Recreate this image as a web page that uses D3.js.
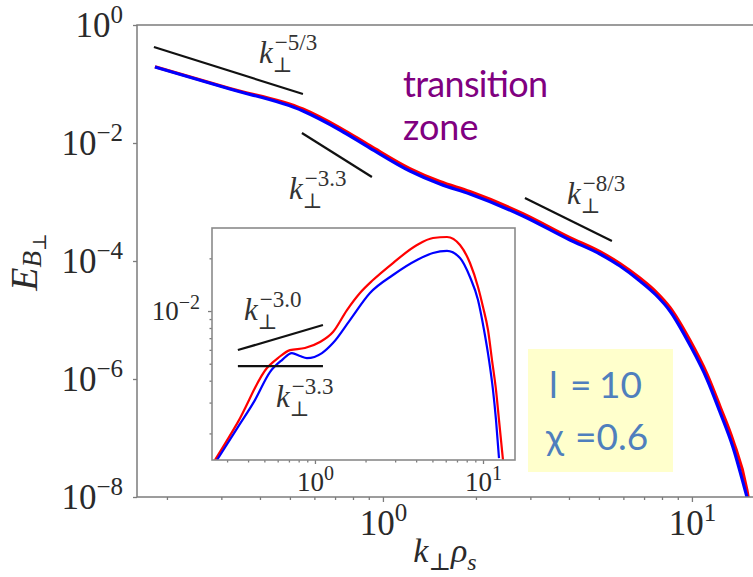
<!DOCTYPE html>
<html>
<head>
<meta charset="utf-8">
<script src="https://cdn.jsdelivr.net/npm/d3@7"></script>
<style>
  html, body { margin: 0; padding: 0; background: #fff; }
  svg { display: block; }
</style>
</head>
<body>
<svg id="chart" width="753" height="577"></svg>
<script>
// ---- main panel: perpendicular magnetic spectrum ----
const kMain = [0.1829, 0.3198, 0.5510, 0.7258, 0.9077, 1.2228, 1.5292, 1.9122, 2.8386, 4.0291,
               5.039, 5.848, 6.786, 7.647, 8.488, 9.852, 11.18, 12.32, 13.57, 15.07, 15.2];
const eMainBlue = [0.1941, 0.0823, 0.03485, 0.01661, 0.008226, 0.003353, 0.002019, 0.001367, 5.789e-4, 2.269e-4,
                   1.314e-4, 8.227e-5, 4.581e-5, 2.653e-5, 1.421e-5, 3.77e-6, 1.0e-6, 2.76e-7, 7.04e-8, 1.0e-8, 8.5e-9];
const eMainRed = [0.1960, 0.0838, 0.0376, 0.0181, 0.0090, 0.00368, 0.00222, 0.00150, 6.35e-4, 2.49e-4,
                  1.44e-4, 9.05e-5, 5.13e-5, 3.0e-5, 1.63e-5, 4.52e-6, 1.22e-6, 3.45e-7, 9.2e-8, 1.3e-8, 1.0e-8];

// ---- inset: compensated spectra ----
const kInsetBlue = [0.2610, 0.3479, 0.4394, 0.5397, 0.6362, 0.7295, 0.8141, 0.8962, 1.1008, 1.2798, 1.6157,
                    2.1254, 2.9127, 4.0469, 5.0393, 6.1054, 7.2966, 8.3656, 9.3375, 10.14, 10.857, 11.468, 11.95, 12.45];
const eInsetBlue = [1.408e-3, 2.173e-3, 3.100e-3, 4.482e-3, 5.248e-3, 5.754e-3, 5.532e-3, 5.386e-3, 5.754e-3, 6.565e-3, 8.883e-3,
                    0.01268, 0.01606, 0.01956, 0.02145, 0.02203, 0.02009, 0.01564, 0.01156, 7.788e-3, 5.248e-3, 3.536e-3, 2.383e-3, 1.445e-3];
const kInsetRed = [0.2540, 0.3479, 0.5179, 0.6023, 0.7098, 0.8720, 1.0710, 1.2798, 1.5506, 1.8530, 2.2145, 2.9127,
                   4.0469, 5.0393, 6.1054, 7.2966, 8.3656, 9.3375, 10.0, 10.71, 11.31, 11.95, 12.45, 13.15];
const eInsetRed = [1.408e-3, 2.321e-3, 4.725e-3, 5.386e-3, 5.985e-3, 6.145e-3, 6.651e-3, 7.586e-3, 0.01013, 0.01268, 0.01503, 0.01880,
                   0.02383, 0.02613, 0.02648, 0.02383, 0.01880, 0.01371, 0.01054, 7.788e-3, 5.248e-3, 3.536e-3, 2.383e-3, 1.408e-3];

// ---- power-law guide segments: end points in (k, E) ----
const guideMainK = [[0.1815, 0.551], [0.5468, 0.9213], [2.881, 5.509]];
const guideMainE = [[0.4238, 0.0677], [0.01477, 0.002653], [1.169e-3, 2.183e-4]];
const guideMainExp = ["\u22125/3", "\u22123.3", "\u22128/3"];
const guideInsetK = [[0.3479, 1.116], [0.3479, 1.116]];
const guideInsetE = [[5.985e-3, 8.318e-3], [4.85e-3, 4.85e-3]];
const guideInsetExp = ["\u22123.0", "\u22123.3"];

// ---- ticks ----
const yMajorMain = [1e-8, 1e-6, 1e-4, 1e-2, 1];
const xMajorMain = [1, 10];
const xMinorMain = [0.2, 0.3, 0.4, 0.5, 0.6, 0.7, 0.8, 0.9, 2, 3, 4, 5, 6, 7, 8, 9];
const yMajorInset = [1e-2];
const yMinorInset = [2e-3, 3e-3, 4e-3, 5e-3, 6e-3, 7e-3, 8e-3, 9e-3, 2e-2];
const xMajorInset = [1, 10];
const xMinorInset = [0.3, 0.4, 0.5, 0.6, 0.7, 0.8, 0.9, 2, 3, 4, 5, 6, 7, 8, 9];

const boxLines = [["l", "=", "10"], ["\u03c7", "=0.6"]];
const zoneLines = ["transition", "zone"];

const SERIF = "'Liberation Serif', 'DejaVu Serif', serif";
const SANS = "Lato, 'Open Sans', sans-serif";
const SPINE = "#7c7c7c";
const TEXT = "#2a2a2a";

const svg = d3.select("#chart");

const x = d3.scaleLog().domain([0.16, 16]).range([137, 755]);
const y = d3.scaleLog().domain([1e-8, 1]).range([497, 25]);
const xi = d3.scaleLog().domain([0.244, 15.5]).range([212, 515]);
const yi = d3.scaleLog().domain([1.41e-3, 0.0298]).range([460, 228]);

const zip = (a, b) => a.map((v, i) => [v, b[i]]);

// "10^n" label built from tspans
function powLabel(sel, supSize, rise) {
  sel.each(function (d) {
    const t = d3.select(this);
    const n = Math.round(Math.log10(d));
    t.text(null);
    t.append("tspan").text("10");
    t.append("tspan").attr("dy", -rise).attr("font-size", supSize)
      .text(n < 0 ? "\u2212" + (-n) : String(n));
  });
}

function styleAxis(g, fontSize) {
  g.select(".domain").remove();
  g.selectAll(".tick line").attr("stroke", SPINE).attr("stroke-width", 1.3);
  g.selectAll(".tick text").attr("fill", TEXT).attr("font-family", SERIF).attr("font-size", fontSize);
}

// ---------- main panel ----------
svg.append("defs").append("clipPath").attr("id", "clipMain")
  .append("rect").attr("x", 137).attr("y", 25).attr("width", 618).attr("height", 472);

const lineMain = d3.line().x(d => x(d[0])).y(d => y(d[1])).curve(d3.curveMonotoneX);

const gMain = svg.append("g").attr("clip-path", "url(#clipMain)");
gMain.append("path").datum(zip(kMain, eMainRed)).attr("d", lineMain)
  .attr("fill", "none").attr("stroke", "#ff0000").attr("stroke-width", 3.2);
gMain.append("path").datum(zip(kMain, eMainBlue)).attr("d", lineMain)
  .attr("fill", "none").attr("stroke", "#0000ff").attr("stroke-width", 3.2);

guideMainK.forEach((ks, i) => {
  svg.append("line")
    .attr("x1", x(ks[0])).attr("y1", y(guideMainE[i][0]))
    .attr("x2", x(ks[1])).attr("y2", y(guideMainE[i][1]))
    .attr("stroke", "#111").attr("stroke-width", 2.2);
});

// axes
const gy = svg.append("g").attr("transform", "translate(137,0)")
  .call(d3.axisLeft(y).tickValues(yMajorMain).tickSize(4).tickPadding(10));
styleAxis(gy, 35);
gy.selectAll(".tick text").attr("dy", "0.32em").call(powLabel, 25, 14);

const gx = svg.append("g").attr("transform", "translate(0,497)")
  .call(d3.axisBottom(x).tickValues(xMajorMain).tickSize(5).tickPadding(8));
styleAxis(gx, 35);
gx.selectAll(".tick text").call(powLabel, 25, 14);

const gxm = svg.append("g").attr("transform", "translate(0,497)")
  .call(d3.axisBottom(x).tickValues(xMinorMain).tickSize(3).tickFormat(""));
styleAxis(gxm, 10);

// frame (the right edge falls just outside the view)
svg.append("rect").attr("x", 137).attr("y", 25).attr("width", 618).attr("height", 472)
  .attr("fill", "none").attr("stroke", SPINE).attr("stroke-width", 1.5);

// axis titles
const yt = svg.append("text").attr("transform", "translate(37,262) rotate(-90)")
  .attr("text-anchor", "middle").attr("font-family", SERIF).attr("fill", TEXT);
yt.append("tspan").attr("font-style", "italic").attr("font-size", 38).text("E");
yt.append("tspan").attr("font-style", "italic").attr("font-size", 27).attr("dy", 4).text("B");
yt.append("tspan").attr("font-size", 19).attr("dy", 5).text("\u22a5");

const xt = svg.append("text").attr("x", 445).attr("y", 562)
  .attr("text-anchor", "middle").attr("font-family", SERIF).attr("fill", TEXT);
xt.append("tspan").attr("font-style", "italic").attr("font-size", 34).text("k");
xt.append("tspan").attr("font-size", 24).attr("dy", 8).text("\u22a5");
xt.append("tspan").attr("font-style", "italic").attr("font-size", 34).attr("dy", -8).text("\u03c1");
xt.append("tspan").attr("font-style", "italic").attr("font-size", 24).attr("dy", 8).text("s");

// k_perp^exp labels for the guides
function kLabel(px, py, exp) {
  const g = svg.append("g").attr("font-family", SERIF).attr("fill", "#333");
  const t = g.append("text").attr("x", px).attr("y", py)
    .attr("font-style", "italic").attr("font-size", 31).text("k");
  const w = t.node().getComputedTextLength();
  g.append("text").attr("x", px + w + 2).attr("y", py - 13).attr("font-size", 23).text(exp);
  g.append("text").attr("x", px + w + 0).attr("y", py + 9).attr("font-size", 21).text("\u22a5");
}
kLabel(259, 63, guideMainExp[0]);
kLabel(289, 199, guideMainExp[1]);
kLabel(567, 204, guideMainExp[2]);

// ---------- inset ----------
svg.append("rect").attr("x", 212).attr("y", 228).attr("width", 303).attr("height", 232)
  .attr("fill", "#fff");

svg.append("defs").append("clipPath").attr("id", "clipInset")
  .append("rect").attr("x", 212).attr("y", 228).attr("width", 303).attr("height", 232);

const lineInset = d3.line().x(d => xi(d[0])).y(d => yi(d[1])).curve(d3.curveMonotoneX);
const gIn = svg.append("g").attr("clip-path", "url(#clipInset)");
gIn.append("path").datum(zip(kInsetRed, eInsetRed)).attr("d", lineInset)
  .attr("fill", "none").attr("stroke", "#ff0000").attr("stroke-width", 2.2);
gIn.append("path").datum(zip(kInsetBlue, eInsetBlue)).attr("d", lineInset)
  .attr("fill", "none").attr("stroke", "#0000ff").attr("stroke-width", 2.2);

guideInsetK.forEach((ks, i) => {
  svg.append("line")
    .attr("x1", xi(ks[0])).attr("y1", yi(guideInsetE[i][0]))
    .attr("x2", xi(ks[1])).attr("y2", yi(guideInsetE[i][1]))
    .attr("stroke", "#111").attr("stroke-width", 2.2);
});

const giy = svg.append("g").attr("transform", "translate(212,0)")
  .call(d3.axisLeft(yi).tickValues(yMajorInset).tickSize(4).tickPadding(8));
styleAxis(giy, 27);
giy.selectAll(".tick text").attr("dy", "0.32em").call(powLabel, 20, 11);
const giym = svg.append("g").attr("transform", "translate(212,0)")
  .call(d3.axisLeft(yi).tickValues(yMinorInset).tickSize(2.5).tickFormat(""));
styleAxis(giym, 10);

const gix = svg.append("g").attr("transform", "translate(0,460)")
  .call(d3.axisBottom(xi).tickValues(xMajorInset).tickSize(4).tickPadding(8));
styleAxis(gix, 27);
gix.selectAll(".tick text").call(powLabel, 20, 11);
const gixm = svg.append("g").attr("transform", "translate(0,460)")
  .call(d3.axisBottom(xi).tickValues(xMinorInset).tickSize(2.5).tickFormat(""));
styleAxis(gixm, 10);

svg.append("rect").attr("x", 212).attr("y", 228).attr("width", 303).attr("height", 232)
  .attr("fill", "none").attr("stroke", "#8a8a8a").attr("stroke-width", 1.6);

kLabel(244, 320, guideInsetExp[0]);
kLabel(276, 407, guideInsetExp[1]);

// ---------- annotations ----------
const zone = svg.append("g").attr("font-family", SANS).attr("fill", "#800080").attr("font-size", 36);
zone.append("text").attr("x", 403).attr("y", 97).attr("textLength", 145).text(zoneLines[0]);
zone.append("text").attr("x", 403).attr("y", 140).text(zoneLines[1]);

svg.append("rect").attr("x", 528).attr("y", 349).attr("width", 145).attr("height", 123)
  .attr("fill", "#ffffcc");
const box = svg.append("g").attr("font-family", SANS).attr("fill", "#4f7fbd").attr("font-size", 37);
const t1 = box.append("text").attr("y", 398);
t1.append("tspan").attr("x", 549).text(boxLines[0][0]);
t1.append("tspan").attr("x", 570).text(boxLines[0][1]);
t1.append("tspan").attr("x", 599).text(boxLines[0][2]);
const t2 = box.append("text").attr("y", 450);
t2.append("tspan").attr("x", 546).text(boxLines[1][0]);
t2.append("tspan").attr("x", 575).text(boxLines[1][1]);
</script>
</body>
</html>
